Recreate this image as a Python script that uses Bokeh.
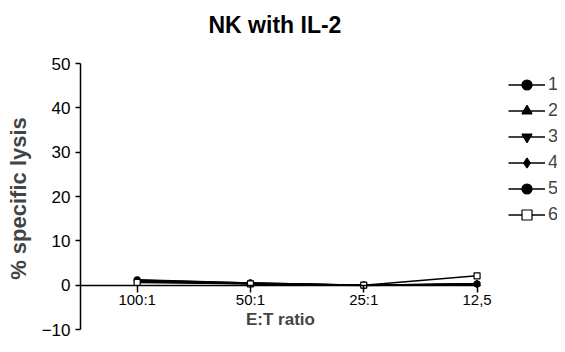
from bokeh.plotting import figure
from bokeh.models import Legend, LegendItem, FixedTicker, Range1d, Title
from bokeh.embed import file_html
from bokeh.resources import INLINE

title_text = "NK with IL-2"
categories = ["100:1", "50:1", "25:1", "12,5"]
xpos = [0, 1, 2, 3]
y_ticks = [-10, 0, 10, 20, 30, 40, 50]

s1 = [1.2, 0.5, 0.0, 0.3]
s2 = [1.0, 0.4, 0.0, 0.2]
s3 = [0.8, 0.3, -0.1, 0.2]
s4 = [1.1, 0.5, 0.0, 0.3]
s5 = [0.9, 0.4, 0.0, 0.2]
s6 = [0.6, 0.3, 0.0, 2.1]
series = [("1", s1, "circle", 6, "black"),
          ("2", s2, "triangle", 6, "black"),
          ("3", s3, "inverted_triangle", 6, "black"),
          ("4", s4, "diamond", 6, "black"),
          ("5", s5, "circle", 5, "black"),
          ("6", s6, "square", 6, "white")]

FONT = "Liberation Sans"

p = figure(frame_width=477, frame_height=270, output_backend="svg", toolbar_location=None,
           x_range=Range1d(-0.5, 3.71), y_range=Range1d(-10.9, 50),
           min_border_left=80, min_border_right=0, min_border_top=63, min_border_bottom=10)
p.title.visible = False

spacer = Title(text=" ", text_font_size="1px", standoff=10)
main_title = Title(text=title_text, align="left", offset=128, vertical_align="top",
                   text_font=FONT, text_font_size="23px", text_font_style="bold",
                   text_color="black", standoff=21)
p.add_layout(spacer, "above")
p.add_layout(main_title, "above")

p.grid.visible = False
p.outline_line_color = None
p.background_fill_color = "white"

items = []
for name, vals, marker, size, fill in series:
    r1 = p.line(xpos, vals, line_color="black", line_width=1.5)
    r2 = p.scatter(xpos, vals, marker=marker, size=size, line_color="black",
                   fill_color=fill, line_width=1.2)
    items.append(LegendItem(label=name, renderers=[r1, r2]))

xa = p.xaxis[0]
xa.fixed_location = 0
xa.bounds = (-0.5, 3.03)
xa.ticker = FixedTicker(ticks=xpos)
xa.major_label_overrides = {i: c for i, c in zip(xpos, categories)}
xa.minor_tick_line_color = None
xa.major_tick_in = 0
xa.major_tick_out = 7
xa.axis_line_width = 1.5
xa.major_tick_line_width = 1.5
xa.major_label_text_font = FONT
xa.major_label_text_font_size = "15px"
xa.major_label_text_color = "black"
xa.major_label_standoff = -1
xa.axis_label = "E:T ratio"
xa.axis_label_text_font = FONT
xa.axis_label_text_font_size = "17px"
xa.axis_label_text_font_style = "bold"
xa.axis_label_standoff = -2

ya = p.yaxis[0]
ya.bounds = (-10, 50)
ya.ticker = FixedTicker(ticks=y_ticks)
ya.minor_tick_line_color = None
ya.major_tick_in = 0
ya.major_tick_out = 5
ya.axis_line_width = 1.5
ya.major_tick_line_width = 1.5
ya.major_label_text_font = FONT
ya.major_label_text_font_size = "17px"
ya.major_label_text_color = "black"
ya.major_label_standoff = 5
ya.axis_label = "% specific lysis"
ya.axis_label_text_font = FONT
ya.axis_label_text_font_size = "22px"
ya.axis_label_text_font_style = "bold"
ya.axis_label_standoff = 8

legend = Legend(items=items, location=(428, 106), margin=0, padding=0, spacing=1,
                glyph_width=37, glyph_height=25, label_height=25,
                label_standoff=3, border_line_color=None, background_fill_alpha=0,
                label_text_font=FONT, label_text_font_size="18px")
p.add_layout(legend, "center")

open("out.html", "w").write(file_html(p, INLINE))
